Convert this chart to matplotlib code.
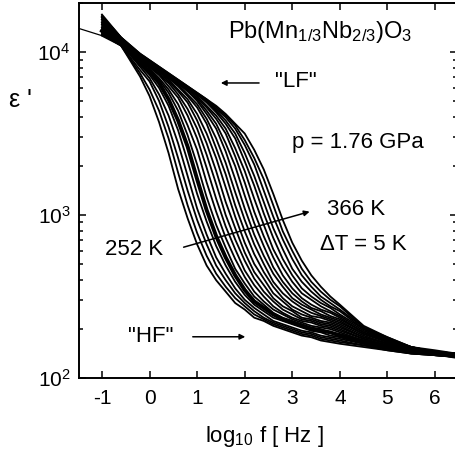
import numpy as np
import matplotlib
matplotlib.use("Agg")
import matplotlib.pyplot as plt
from matplotlib.ticker import LogLocator, NullFormatter

plt.rcParams["font.family"] = ["Liberation Sans", "DejaVu Sans"]
plt.rcParams["mathtext.fontset"] = "custom"
plt.rcParams["mathtext.rm"] = "Liberation Sans"
plt.rcParams["mathtext.it"] = "Liberation Sans:italic"
plt.rcParams["mathtext.bf"] = "Liberation Sans:bold"
plt.rcParams["axes.unicode_minus"] = False

# frequency points, log10 f [Hz]
log_f = [-1.0, -0.6, -0.2, 0.0, 0.2, 0.4, 0.6, 0.8, 1.0, 1.2, 1.4, 1.6, 1.8, 2.0,
         2.2, 2.4, 2.6, 2.8, 3.0, 3.2, 3.4, 3.6, 3.8, 4.0, 4.5, 5.0, 5.5, 6.0, 6.45]

# isotherms, 252 K ... 366 K (dT ~ 5 K)
temps = [252, 257, 262, 267, 272, 277, 282, 287, 292, 297, 302, 307,
         312, 317, 322, 327, 332, 337, 342, 347, 352, 357, 366]

# log10 of eps', one row per isotherm
log_eps = [
    [4.10, 4.04, 3.85, 3.73, 3.57, 3.38, 3.16, 2.98, 2.82, 2.69, 2.60, 2.53, 2.46, 2.42, 2.37, 2.35, 2.32, 2.30, 2.28, 2.26, 2.25, 2.23, 2.22, 2.21, 2.19, 2.17, 2.15, 2.14, 2.13],
    [4.11, 4.04, 3.87, 3.77, 3.64, 3.47, 3.26, 3.06, 2.89, 2.75, 2.64, 2.56, 2.49, 2.44, 2.39, 2.36, 2.33, 2.31, 2.29, 2.27, 2.26, 2.24, 2.23, 2.22, 2.20, 2.17, 2.15, 2.14, 2.13],
    [4.11, 4.04, 3.89, 3.82, 3.70, 3.54, 3.35, 3.15, 2.97, 2.82, 2.69, 2.60, 2.52, 2.46, 2.41, 2.37, 2.34, 2.32, 2.30, 2.28, 2.27, 2.25, 2.24, 2.23, 2.20, 2.18, 2.15, 2.14, 2.13],
    [4.12, 4.05, 3.91, 3.84, 3.74, 3.61, 3.44, 3.24, 3.04, 2.88, 2.74, 2.64, 2.55, 2.48, 2.43, 2.39, 2.35, 2.33, 2.31, 2.29, 2.28, 2.26, 2.25, 2.24, 2.21, 2.18, 2.16, 2.14, 2.13],
    [4.12, 4.05, 3.92, 3.86, 3.78, 3.67, 3.52, 3.33, 3.13, 2.96, 2.81, 2.69, 2.59, 2.51, 2.45, 2.41, 2.37, 2.35, 2.33, 2.31, 2.29, 2.28, 2.26, 2.25, 2.21, 2.18, 2.16, 2.14, 2.13],
    [4.13, 4.05, 3.93, 3.88, 3.81, 3.71, 3.58, 3.42, 3.22, 3.03, 2.87, 2.74, 2.63, 2.54, 2.47, 2.43, 2.39, 2.36, 2.34, 2.32, 2.30, 2.29, 2.28, 2.26, 2.22, 2.19, 2.16, 2.15, 2.13],
    [4.14, 4.05, 3.94, 3.89, 3.83, 3.75, 3.64, 3.49, 3.31, 3.11, 2.94, 2.80, 2.67, 2.58, 2.50, 2.45, 2.40, 2.37, 2.35, 2.33, 2.31, 2.30, 2.28, 2.27, 2.23, 2.19, 2.16, 2.15, 2.14],
    [4.14, 4.06, 3.95, 3.90, 3.84, 3.77, 3.68, 3.55, 3.40, 3.20, 3.02, 2.86, 2.73, 2.62, 2.53, 2.47, 2.42, 2.39, 2.36, 2.34, 2.32, 2.31, 2.30, 2.28, 2.23, 2.20, 2.16, 2.15, 2.14],
    [4.15, 4.06, 3.95, 3.91, 3.86, 3.79, 3.72, 3.61, 3.47, 3.29, 3.10, 2.93, 2.79, 2.66, 2.57, 2.50, 2.44, 2.40, 2.37, 2.35, 2.34, 2.32, 2.31, 2.29, 2.24, 2.20, 2.17, 2.15, 2.14],
    [4.15, 4.06, 3.95, 3.91, 3.86, 3.81, 3.74, 3.65, 3.53, 3.37, 3.19, 3.00, 2.85, 2.72, 2.61, 2.53, 2.47, 2.42, 2.39, 2.36, 2.35, 2.33, 2.32, 2.30, 2.24, 2.20, 2.17, 2.15, 2.14],
    [4.16, 4.06, 3.95, 3.91, 3.87, 3.82, 3.76, 3.69, 3.58, 3.44, 3.27, 3.08, 2.92, 2.77, 2.65, 2.57, 2.49, 2.44, 2.41, 2.37, 2.36, 2.34, 2.33, 2.31, 2.25, 2.21, 2.17, 2.15, 2.14],
    [4.17, 4.07, 3.96, 3.92, 3.88, 3.83, 3.77, 3.71, 3.62, 3.50, 3.35, 3.17, 2.99, 2.83, 2.70, 2.61, 2.52, 2.47, 2.42, 2.39, 2.37, 2.35, 2.34, 2.32, 2.25, 2.21, 2.17, 2.15, 2.14],
    [4.17, 4.07, 3.96, 3.92, 3.88, 3.84, 3.79, 3.73, 3.66, 3.56, 3.41, 3.25, 3.06, 2.90, 2.76, 2.65, 2.56, 2.49, 2.44, 2.41, 2.38, 2.37, 2.35, 2.33, 2.26, 2.21, 2.17, 2.15, 2.14],
    [4.18, 4.07, 3.96, 3.92, 3.88, 3.84, 3.80, 3.74, 3.68, 3.59, 3.47, 3.32, 3.14, 2.97, 2.82, 2.70, 2.59, 2.52, 2.47, 2.43, 2.40, 2.38, 2.36, 2.34, 2.27, 2.22, 2.18, 2.15, 2.14],
    [4.18, 4.07, 3.97, 3.93, 3.89, 3.85, 3.81, 3.76, 3.70, 3.62, 3.53, 3.39, 3.22, 3.04, 2.88, 2.75, 2.64, 2.56, 2.49, 2.45, 2.42, 2.39, 2.37, 2.35, 2.27, 2.22, 2.18, 2.16, 2.14],
    [4.19, 4.07, 3.97, 3.93, 3.89, 3.85, 3.81, 3.76, 3.71, 3.64, 3.56, 3.44, 3.30, 3.12, 2.95, 2.81, 2.68, 2.59, 2.52, 2.47, 2.43, 2.41, 2.38, 2.36, 2.28, 2.22, 2.18, 2.16, 2.14],
    [4.20, 4.08, 3.97, 3.93, 3.89, 3.85, 3.81, 3.77, 3.72, 3.66, 3.59, 3.50, 3.36, 3.20, 3.02, 2.87, 2.74, 2.63, 2.55, 2.49, 2.45, 2.42, 2.40, 2.37, 2.28, 2.23, 2.18, 2.16, 2.14],
    [4.20, 4.08, 3.98, 3.94, 3.90, 3.86, 3.82, 3.78, 3.73, 3.67, 3.61, 3.53, 3.41, 3.27, 3.10, 2.94, 2.79, 2.68, 2.59, 2.52, 2.48, 2.44, 2.41, 2.38, 2.29, 2.23, 2.18, 2.16, 2.15],
    [4.21, 4.08, 3.98, 3.94, 3.90, 3.86, 3.82, 3.78, 3.74, 3.69, 3.63, 3.56, 3.47, 3.33, 3.18, 3.01, 2.86, 2.73, 2.63, 2.55, 2.50, 2.46, 2.43, 2.39, 2.30, 2.23, 2.19, 2.16, 2.15],
    [4.21, 4.08, 3.98, 3.94, 3.90, 3.86, 3.82, 3.78, 3.74, 3.70, 3.64, 3.58, 3.50, 3.38, 3.24, 3.08, 2.92, 2.79, 2.67, 2.59, 2.53, 2.48, 2.44, 2.41, 2.30, 2.24, 2.19, 2.16, 2.15],
    [4.22, 4.09, 3.98, 3.94, 3.90, 3.86, 3.82, 3.78, 3.74, 3.70, 3.65, 3.60, 3.53, 3.43, 3.31, 3.15, 2.99, 2.85, 2.73, 2.63, 2.56, 2.50, 2.46, 2.42, 2.31, 2.24, 2.19, 2.16, 2.15],
    [4.22, 4.09, 3.99, 3.95, 3.91, 3.87, 3.83, 3.79, 3.75, 3.71, 3.66, 3.61, 3.55, 3.46, 3.35, 3.22, 3.06, 2.90, 2.78, 2.67, 2.59, 2.53, 2.48, 2.44, 2.31, 2.25, 2.19, 2.16, 2.15],
    [4.23, 4.09, 3.99, 3.95, 3.91, 3.87, 3.83, 3.79, 3.75, 3.71, 3.67, 3.62, 3.56, 3.50, 3.40, 3.28, 3.13, 2.97, 2.83, 2.72, 2.63, 2.56, 2.50, 2.45, 2.32, 2.25, 2.19, 2.17, 2.15],
]
bold_temp = 277

# low-frequency run of the 252 K isotherm
ext_log_f = [-1.5, -1.0]
ext_eps = [14000, 12600]

fig = plt.figure(figsize=(4.55, 4.59), dpi=100)
ax = fig.add_axes([0.1736, 0.1765, 0.8308, 0.817])

for T, row in zip(temps, log_eps):
    lw = 2.8 if T == bold_temp else 1.3
    ax.plot(log_f, 10 ** np.array(row), color="black", lw=lw)
ax.plot(ext_log_f, ext_eps, color="black", lw=0.9)

ax.set_yscale("log")
ax.set_xlim(-1.483, 6.462)
ax.set_ylim(100, 20000)
ax.set_xticks(range(-1, 7))
ax.set_xticklabels([str(v) for v in range(-1, 7)])
ax.set_yticks([100, 1000, 10000])
ax.set_yticklabels(["10$^2$", "10$^3$", "10$^4$"])
ax.yaxis.set_minor_locator(LogLocator(base=10, subs=np.arange(2, 10)))
ax.yaxis.set_minor_formatter(NullFormatter())
ax.tick_params(which="both", direction="in", top=True, right=True, labelsize=15, width=1.1)
ax.tick_params(which="major", length=5)
ax.tick_params(which="minor", length=3)
ax.tick_params(axis="x", pad=8)
ax.tick_params(axis="y", pad=6)
for s in ax.spines.values():
    s.set_linewidth(1.4)

txt = 16
ax.text(1.65, 12200, "Pb(Mn$_{1/3}$Nb$_{2/3}$)O$_3$", fontsize=17, va="baseline")
ax.text(2.64, 6550, '"LF"', fontsize=txt, va="center")
ax.annotate("", xy=(1.44, 6460), xytext=(2.36, 6460),
            arrowprops=dict(arrowstyle="-|>", lw=1.1, color="black", mutation_scale=8))
ax.text(2.99, 2800, "p = 1.76 GPa", fontsize=txt, va="center")
ax.text(3.73, 1075, "366 K", fontsize=txt, va="center")
ax.text(3.58, 655, "ΔT = 5 K", fontsize=txt, va="center")
ax.text(-0.94, 610, "252 K", fontsize=txt, va="center")
ax.annotate("", xy=(3.42, 1060), xytext=(0.66, 628),
            arrowprops=dict(arrowstyle="-|>", lw=1.1, color="black", mutation_scale=8))
ax.text(-0.45, 179, '"HF"', fontsize=txt, va="center")
ax.annotate("", xy=(2.07, 179), xytext=(0.85, 179),
            arrowprops=dict(arrowstyle="-|>", lw=1.1, color="black", mutation_scale=8))

fig.text(0.044, 0.782, "ε '", fontsize=18, ha="center", va="center")
fig.text(0.582, 0.048, "log$_{10}$ f [ Hz ]", fontsize=16, ha="center", va="center")

fig.savefig("out.png", dpi=100)
